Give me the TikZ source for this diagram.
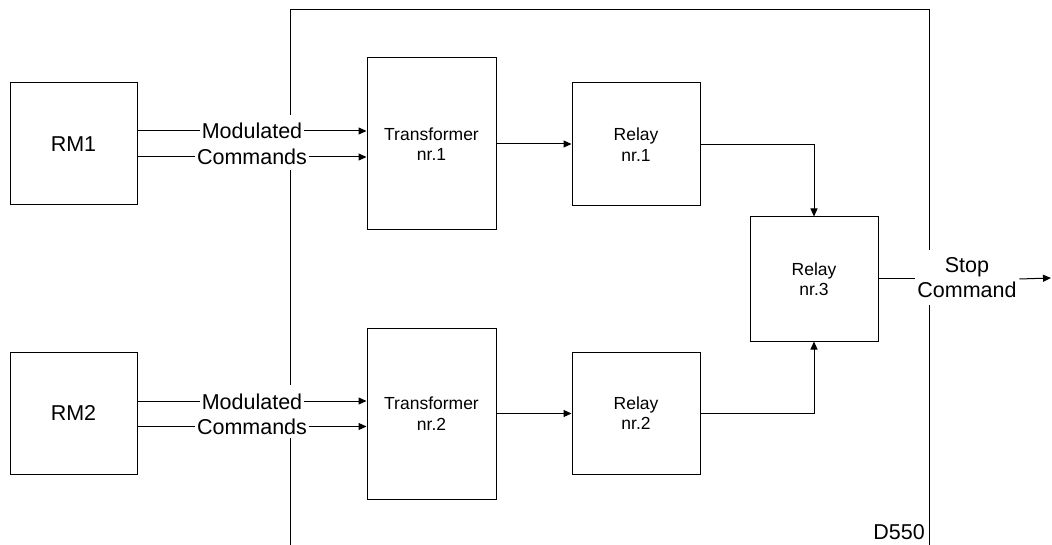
\documentclass[tikz,border=0pt]{standalone}
\usepackage{fontspec}
\setmainfont{Liberation Sans}
\usetikzlibrary{arrows.meta}
\begin{document}
\begin{tikzpicture}[x=1pt,y=-1pt,
  wire/.style={line width=1pt},
  arr/.style={wire,-{Triangle[length=8pt,width=7pt]}},
  box/.style={draw,line width=1pt,align=center,inner sep=0pt,
    font=\fontsize{17.5}{20.5}\selectfont},
  bigbox/.style={box,font=\fontsize{21.5}{25}\selectfont},
  lbl/.style={font=\fontsize{21.5}{25}\selectfont,inner xsep=1.5pt,inner ysep=0pt,
    text height=16pt,text depth=0pt}]
\useasboundingbox (0,0) rectangle (1052,545);

% remote modules
\node[bigbox,minimum width=127pt,minimum height=122pt] (rm1) at (73.5,144) {RM1};
\node[bigbox,minimum width=127pt,minimum height=122pt] (rm2) at (73.5,413) {RM2};

% transformers
\node[box,minimum width=129pt,minimum height=172pt] (t1) at (431.5,144) {Transformer\\nr.1};
\node[box,minimum width=129pt,minimum height=171pt] (t2) at (431.5,413.5) {Transformer\\nr.2};

% relays
\node[box,minimum width=128pt,minimum height=123pt] (r1) at (636,144.5) {Relay\\nr.1};
\node[box,minimum width=128pt,minimum height=122pt] (r2) at (636,413) {Relay\\nr.2};
\node[box,minimum width=128pt,minimum height=124pt] (r3) at (814,279) {Relay\\nr.3};

% signal labels
\node[lbl] (m1) at (252,131) {Modulated};
\node[lbl] (c1) at (252,157) {Commands};
\node[lbl] (m2) at (252,401) {Modulated};
\node[lbl] (c2) at (252,426.5) {Commands};
\node[font=\fontsize{21.5}{25}\selectfont,align=center,inner xsep=2.5pt,inner ysep=0pt] (stop) at (967,278) {Stop\\Command};
\node[font=\fontsize{21.5}{25}\selectfont,anchor=base east,inner sep=0pt] (tag) at (925,539) {D550};

% command lines
\draw[wire] (rm1.east |- m1.west) -- (m1.west);
\draw[arr] (m1.east) -- (t1.west |- m1.east);
\draw[wire] (rm1.east |- c1.west) -- (c1.west);
\draw[arr] (c1.east) -- (t1.west |- c1.east);
\draw[wire] (rm2.east |- m2.west) -- (m2.west);
\draw[arr] (m2.east) -- (t2.west |- m2.east);
\draw[wire] (rm2.east |- c2.west) -- (c2.west);
\draw[arr] (c2.east) -- (t2.west |- c2.east);

% transformer to relay
\draw[arr] (t1.east) -- (r1.west |- t1.east);
\draw[arr] (t2.east) -- (r2.west |- t2.east);

% relays to relay 3
\draw[arr] (r1.east) -| (r3.north);
\draw[arr] (r2.east) -| (r3.south);

% output
\coordinate (out) at (1051,278);
\draw[wire] (r3.east) -- (stop.west |- r3.east);
\draw[arr] (stop.east |- r3.east) -- (out);

% boundary frame
\coordinate (la) at (290,115);
\coordinate (lb) at (290,170);
\coordinate (lc) at (290,385);
\coordinate (ld) at (290,438);
\coordinate (le) at (290,545);
\coordinate (ra) at (929,250);
\coordinate (rb) at (929,305);
\coordinate (rc) at (929,545);
\draw[wire] (la) |- (929,10) -- (ra);
\draw[wire] (lb) -- (lc);
\draw[wire] (ld) -- (le);
\draw[wire] (rb) -- (rc);
\end{tikzpicture}
\end{document}
